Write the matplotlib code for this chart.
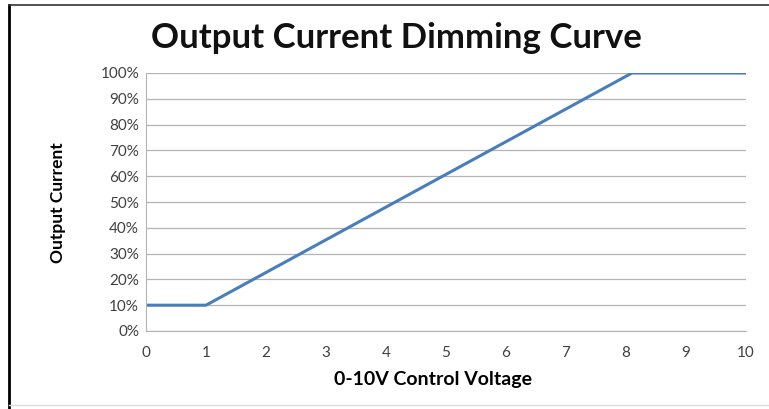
import numpy as np
import matplotlib.pyplot as plt
from matplotlib.lines import Line2D

# dimming curve breakpoints
voltage = [0, 1, 8.1, 10]
current = [10, 10, 100, 100]
xticks = list(range(0, 11))
yticks = list(range(0, 101, 10))

plt.rcParams['font.family'] = ['Lato', 'DejaVu Sans']

fig = plt.figure(figsize=(7.69, 4.09), dpi=100)
ax = fig.add_axes([146/769, 1-331/409, 600/769, 258/409])

ax.plot(voltage, current, color='#4a7ebb', lw=2.2, solid_capstyle='butt')
ax.set_xlim(0, 10)
ax.set_ylim(0, 100)
ax.set_xticks(xticks)
ax.set_yticks(yticks)
ax.set_yticklabels([f"{v}%" for v in yticks])
ax.yaxis.grid(True, color='#b3b3b3', lw=0.9)
ax.set_axisbelow(True)
for s in ['top', 'right']:
    ax.spines[s].set_visible(False)
for s in ['left', 'bottom']:
    ax.spines[s].set_color('#b3b3b3')
ax.tick_params(axis='both', length=0, labelsize=11, colors='#404040')
ax.tick_params(axis='y', pad=5)
ax.tick_params(axis='x', pad=11)

ax.set_xlabel('0-10V Control Voltage', fontsize=14, fontweight='bold')
ax.xaxis.set_label_coords((433-146)/600, -(371-331)/258)
ax.set_ylabel('Output Current', fontsize=12.5, fontweight='bold')
ax.yaxis.set_label_coords(-(146-66)/600, (331-203)/258)
fig.text(396/769, 1-38/409, 'Output Current Dimming Curve', fontsize=25,
         fontweight='bold', ha='center', va='center', color='#111111')

# outer chart frame
fig.add_artist(Line2D([9/769, 9/769], [0, 1-5/409], color='black', lw=2))
fig.add_artist(Line2D([9/769, 1], [1-5/409, 1-5/409], color='#333333', lw=1.2))
fig.add_artist(Line2D([9/769, 1], [4/409, 4/409], color='#dddddd', lw=1))

fig.savefig('out.png', dpi=100)
